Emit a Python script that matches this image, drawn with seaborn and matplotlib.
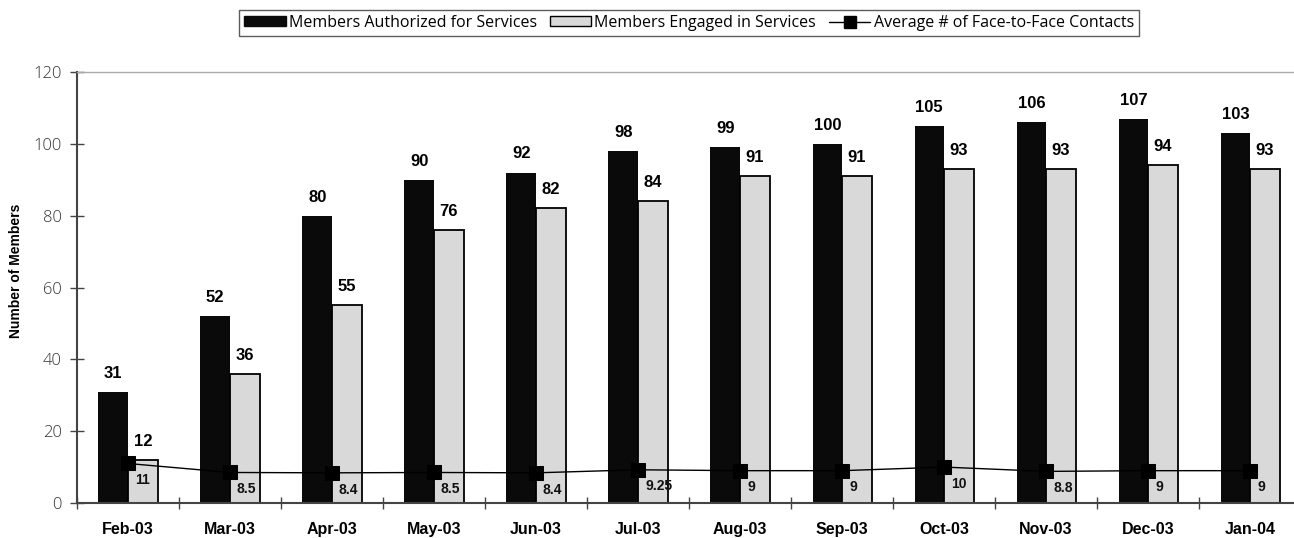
import matplotlib
matplotlib.use("Agg")
import matplotlib.pyplot as plt
import seaborn as sns
import pandas as pd
import numpy as np
from matplotlib.patches import Patch
from matplotlib.lines import Line2D
from matplotlib.ticker import MultipleLocator, FixedLocator

months = ["Feb-03", "Mar-03", "Apr-03", "May-03", "Jun-03", "Jul-03",
          "Aug-03", "Sep-03", "Oct-03", "Nov-03", "Dec-03", "Jan-04"]
authorized = [31, 52, 80, 90, 92, 98, 99, 100, 105, 106, 107, 103]
engaged = [12, 36, 55, 76, 82, 84, 91, 91, 93, 93, 94, 93]
avg_contacts = [11, 8.5, 8.4, 8.5, 8.4, 9.25, 9, 9, 10, 8.8, 9, 9]
avg_labels = ["11", "8.5", "8.4", "8.5", "8.4", "9.25", "9", "9", "10", "8.8", "9", "9"]

s_auth = "Members Authorized for Services"
s_eng = "Members Engaged in Services"
s_avg = "Average # of Face-to-Face Contacts"

sns.set_theme(style="white")
plt.rcParams['font.family'] = ['DejaVu Sans']
plt.rcParams['text.color'] = 'black'
plt.rcParams['axes.labelcolor'] = 'black'
plt.rcParams['xtick.color'] = 'black'
plt.rcParams['ytick.color'] = '#333333'

df = pd.DataFrame({
    "month": months * 2,
    "value": authorized + engaged,
    "series": [s_auth] * len(months) + [s_eng] * len(months),
})

fig = plt.figure(figsize=(12.94, 5.38), dpi=100)
ax = fig.add_axes([77 / 1294, 1 - 503 / 538, 1217 / 1294, 431 / 538])

sns.barplot(data=df, x="month", y="value", hue="series", order=months,
            hue_order=[s_auth, s_eng], palette=["#0a0a0a", "#d9d9d9"],
            width=0.58, gap=0, dodge=True, legend=False, ax=ax,
            saturation=1, edgecolor="none")

for p in ax.containers[1]:
    p.set_edgecolor("black")
    p.set_linewidth(1.3)

sns.pointplot(x=months, y=avg_contacts, order=months, color="black",
              markers="s", markersize=10, linewidth=1.0, ax=ax,
              errorbar=None)

bold_fam = ['Liberation Sans', 'DejaVu Sans']
for cont in ax.containers[:2]:
    ax.bar_label(cont, padding=8, fontsize=12, fontweight="bold",
                 family=bold_fam, color="black")

for i, (v, lab) in enumerate(zip(avg_contacts, avg_labels)):
    ax.annotate(lab, (i, v), xytext=(5, -7), textcoords="offset points",
                ha="left", va="top", fontsize=10, fontweight="bold",
                family=bold_fam, color="#111111")

ax.set_xlim(-0.5, 11.43)
ax.set_ylim(0, 120)
ax.yaxis.set_major_locator(MultipleLocator(20))
ax.set_xlabel("")
ax.set_ylabel("Number of Members", fontsize=10, fontweight="bold",
              family=bold_fam)
ax.yaxis.set_label_coords((23 - 77) / 1217, 0.538)

ax.xaxis.set_minor_locator(FixedLocator(np.arange(-0.5, 11.6, 1.0)))
ax.tick_params(axis="x", which="major", length=0, pad=14)
ax.tick_params(axis="x", which="minor", length=8, width=1.0,
               direction="inout", color="#444444", bottom=True)
ax.tick_params(axis="y", which="major", length=10, width=1.0,
               direction="inout", color="#444444", left=True, pad=6,
               labelsize=12, labelcolor="#333333")
for lab in ax.get_xticklabels():
    lab.set_fontweight("bold")
    lab.set_fontsize(11.5)
    lab.set_family(bold_fam)
    lab.set_color("black")
for lab in ax.get_yticklabels():
    lab.set_family(['Open Sans', 'DejaVu Sans'])
    lab.set_fontweight("light")

for side in ["left", "bottom"]:
    ax.spines[side].set_color("#444444")
    ax.spines[side].set_linewidth(1.5)
ax.spines["top"].set_color("#aaaaaa")
ax.spines["top"].set_linewidth(1.0)
ax.spines["right"].set_visible(False)

handles = [
    Patch(facecolor="#0a0a0a", edgecolor="#0a0a0a", label=s_auth),
    Patch(facecolor="#d9d9d9", edgecolor="black", linewidth=1.0, label=s_eng),
    Line2D([0], [0], color="black", linewidth=1.0, marker="s",
           markersize=8, label=s_avg),
]
leg = fig.legend(handles=handles, loc="center", ncol=3,
                 bbox_to_anchor=(689 / 1294, 1 - 23 / 538),
                 frameon=True, fancybox=False, edgecolor="#333333",
                 prop={"family": ['Open Sans', 'DejaVu Sans'],
                       "size": 11.5},
                 handlelength=2.6, handleheight=0.6, handletextpad=0.2,
                 columnspacing=0.8, borderpad=0.3)
leg.get_frame().set_linewidth(1.0)
for t in leg.get_texts():
    t.set_color("black")

fig.savefig("out.png", dpi=100)
